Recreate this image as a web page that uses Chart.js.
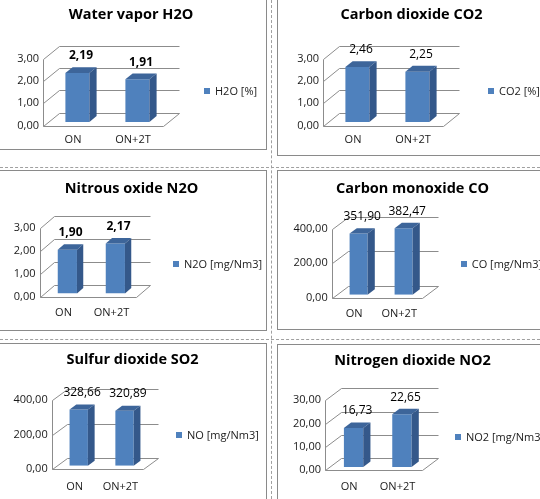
<!DOCTYPE html>
<html><head><meta charset="utf-8">
<script src="https://cdn.jsdelivr.net/npm/chart.js@4.4.1/dist/chart.umd.min.js"></script>
<style>
html,body{margin:0;padding:0;background:#fff;width:540px;height:499px;overflow:hidden;position:relative}
canvas{position:absolute}
.ln{position:absolute;box-sizing:border-box}
</style></head><body>
<script>
// ---- data ----
const categories = ['ON', 'ON+2T'];
const titles = ['Water vapor H2O', 'Carbon dioxide CO2', 'Nitrous oxide N2O', 'Carbon monoxide CO', 'Sulfur dioxide SO2', 'Nitrogen dioxide NO2'];
const seriesLabels = ['H2O [%]', 'CO2 [%]', 'N2O [mg/Nm3]', 'CO [mg/Nm3]', 'NO [mg/Nm3]', 'NO2 [mg/Nm3]'];
const h2oValues = [2.19, 1.91];
const co2Values = [2.46, 2.25];
const n2oValues = [1.90, 2.17];
const coValues = [351.90, 382.47];
const so2Values = [328.66, 320.89];
const no2Values = [16.73, 22.65];
const axisMax = [3, 3, 3, 400, 400, 30];
const axisStep = [1, 1, 1, 200, 200, 10];
const seriesValues = [h2oValues, co2Values, n2oValues, coValues, so2Values, no2Values];

// ---- layout / style ----
const FONT = "'Open Sans', 'DejaVu Sans', sans-serif";
const TITLE_SIZE = 14.5, TICK_SIZE = 11, LABEL_SIZE = 12, LEGEND_SIZE = 11;
const FRONT = '#4f81bd', TOP = '#3d659a', SIDE = '#34588a', GRID = '#8c8c8c';
const panels = [
 {cx:0,   cy:0,   cw:262, ch:152, L:43,    R:163,   T:58.5,  B:125.5, titleY:15,    xLabelY:140,   depth:[16,-13], legendX:204,   legendY:91,    bold:true},
 {cx:278, cy:0,   cw:267, ch:152, L:323,   R:443,   T:58.5,  B:125.5, titleY:15,    xLabelY:140,   depth:[16,-13], legendX:488,   legendY:91,    bold:false},
 {cx:0,   cy:170, cw:263, ch:152, L:39.5,  R:135.5, T:227.7, B:296.7, titleY:188.7, xLabelY:312.7, depth:[14,-12], legendX:173,   legendY:264.3, bold:true},
 {cx:278, cy:170, cw:269, ch:152, L:331.7, R:421.7, T:228.5, B:298,   titleY:188.7, xLabelY:314.3, depth:[16,-12], legendX:460.7, legendY:264.3, bold:false},
 {cx:0,   cy:338, cw:265, ch:161, L:51.7,  R:143.3, T:400.3, B:468.7, titleY:360.3, xLabelY:487,   depth:[15,-11], legendX:176,   legendY:435.3, bold:false},
 {cx:278, cy:345, cw:269, ch:154, L:325,   R:421.7, T:400.3, B:470.3, titleY:361.3, xLabelY:487,   depth:[16,-12], legendX:455,   legendY:437,   bold:false}
];
const fmt = v => Number(v).toFixed(2).replace('.', ',');

// panel border boxes: [x, y, w, h]
const boxes = [
 [-2, -2, 269, 152],
 [277, -2, 270, 158],
 [-2, 170, 269, 161],
 [277, 170, 270, 160],
 [-2, 343, 269, 170],
 [277, 344, 270, 170]
];
boxes.forEach(([x, y, w, h]) => {
  const d = document.createElement('div');
  d.className = 'ln';
  d.style.cssText = `left:${x}px;top:${y}px;width:${w}px;height:${h}px;border:1px solid #8a8a8a;`;
  document.body.appendChild(d);
});
// table cell dashed lines: [x, y, w, h]
[[271, 0, 1, 499], [0, 167, 540, 1], [0, 339, 540, 1]].forEach(([x, y, w, h]) => {
  const d = document.createElement('div');
  d.className = 'ln';
  d.style.cssText = `left:${x}px;top:${y}px;width:${w}px;height:${h}px;` + (w > 1 ? 'border-top:1px dashed #a0a0a0;' : 'border-left:1px dashed #a0a0a0;');
  document.body.appendChild(d);
});

const BAR_FRAC = 0.45;
const threeD = {
  id: 'threeD',
  beforeDatasetsDraw(chart, args, o) {
    const {ctx, chartArea: a} = chart;
    const y = chart.scales.y;
    const [dx, dy] = o.depth;
    ctx.save();
    ctx.strokeStyle = GRID; ctx.lineWidth = 1;
    ctx.beginPath();
    const L = Math.round(a.left) + 0.5, R = Math.round(a.right) + 0.5, B = Math.round(a.bottom) + 0.5;
    ctx.moveTo(L, B); ctx.lineTo(R, B); ctx.lineTo(R + dx, B + dy);
    ctx.moveTo(L, B); ctx.lineTo(L, Math.round(a.top) + 0.5);
    y.ticks.forEach(t => {
      const py = Math.round(y.getPixelForValue(t.value)) + 0.5;
      ctx.moveTo(L, py); ctx.lineTo(L + dx, py + dy); ctx.lineTo(R + dx, py + dy);
    });
    ctx.stroke();
    ctx.restore();
    const sx = dx * (1 - BAR_FRAC) / 2, sy = dy * (1 - BAR_FRAC) / 2;
    ctx.save();
    ctx.translate(sx, sy);
  },
  afterDatasetsDraw(chart, args, o) {
    const {ctx} = chart;
    const [dx, dy] = o.depth;
    const bdx = dx * BAR_FRAC, bdy = dy * BAR_FRAC;
    const sx = dx * (1 - BAR_FRAC) / 2, sy = dy * (1 - BAR_FRAC) / 2;
    const meta = chart.getDatasetMeta(0);
    const ds = chart.data.datasets[0];
    meta.data.forEach(el => {
      const {x, y, base, width} = el.getProps(['x', 'y', 'base', 'width'], true);
      const l = x - width / 2, r = x + width / 2;
      ctx.fillStyle = TOP;
      ctx.beginPath();
      ctx.moveTo(l, y); ctx.lineTo(r, y); ctx.lineTo(r + bdx, y + bdy); ctx.lineTo(l + bdx, y + bdy); ctx.closePath();
      ctx.fill();
      ctx.fillStyle = SIDE;
      ctx.beginPath();
      ctx.moveTo(r, y); ctx.lineTo(r + bdx, y + bdy); ctx.lineTo(r + bdx, base + bdy); ctx.lineTo(r, base); ctx.closePath();
      ctx.fill();
    });
    ctx.restore();
    // data labels
    ctx.save();
    ctx.fillStyle = '#000';
    ctx.font = (o.bold ? 'bold ' : '') + LABEL_SIZE + 'px ' + FONT;
    ctx.textAlign = 'center'; ctx.textBaseline = 'middle';
    meta.data.forEach((el, i) => {
      const {x, y} = el.getProps(['x', 'y'], true);
      ctx.fillText(fmt(ds.data[i]), x + sx + bdx / 2, y + sy - 17);
    });
    // legend
    ctx.fillStyle = FRONT;
    ctx.fillRect(Math.round(o.legendX), Math.round(o.legendY - 3), 6, 6);
    ctx.fillStyle = '#1a1a1a';
    ctx.font = LEGEND_SIZE + 'px ' + FONT;
    ctx.textAlign = 'left';
    ctx.fillText(ds.label, o.legendX + 11, o.legendY + 0.5);
    ctx.restore();
  }
};

panels.forEach((p, i) => {
  const c = document.createElement('canvas');
  c.width = p.cw; c.height = p.ch;
  c.style.left = p.cx + 'px'; c.style.top = p.cy + 'px';
  c.style.width = p.cw + 'px'; c.style.height = p.ch + 'px';
  document.body.appendChild(c);
  const lh = TITLE_SIZE * 1.2;
  const padTop = p.titleY - p.cy - lh / 2;
  const padBot = (p.T - p.cy) - padTop - lh;
  const xh = p.ch - (p.B - p.cy);
  const xPad = p.xLabelY - TICK_SIZE * 0.6 - p.B;
  new Chart(c, {
    type: 'bar',
    data: {
      labels: categories,
      datasets: [{label: seriesLabels[i], data: seriesValues[i], backgroundColor: FRONT, borderWidth: 0, barPercentage: 0.4, categoryPercentage: 1}]
    },
    plugins: [threeD],
    options: {
      responsive: false, animation: false, devicePixelRatio: 1,
      layout: {padding: 0},
      plugins: {
        legend: {display: false},
        tooltip: {enabled: false},
        title: {display: true, text: titles[i], color: '#000',
          font: {family: FONT, size: TITLE_SIZE, weight: 'bold', lineHeight: 1.2},
          padding: {top: padTop, bottom: padBot}},
        threeD: {depth: p.depth, legendX: p.legendX - p.cx, legendY: p.legendY - p.cy, bold: p.bold}
      },
      scales: {
        x: {grid: {display: false, drawTicks: false}, border: {display: false},
            ticks: {padding: xPad, color: '#1a1a1a', font: {family: FONT, size: TICK_SIZE}, maxRotation: 0, autoSkip: false},
            afterFit: s => { s.height = xh; }},
        y: {min: 0, max: axisMax[i], grid: {display: false, drawTicks: false}, border: {display: false},
            ticks: {stepSize: axisStep[i], padding: 4, color: '#1a1a1a', font: {family: FONT, size: TICK_SIZE}, callback: v => fmt(v)},
            afterFit: s => { s.width = p.L - p.cx; }},
        yr: {type: 'linear', axis: 'y', position: 'right', display: true, grid: {display: false, drawTicks: false}, border: {display: false},
            ticks: {display: false}, afterFit: s => { s.width = p.cx + p.cw - p.R; }}
      }
    }
  });
});
</script>
</body></html>
